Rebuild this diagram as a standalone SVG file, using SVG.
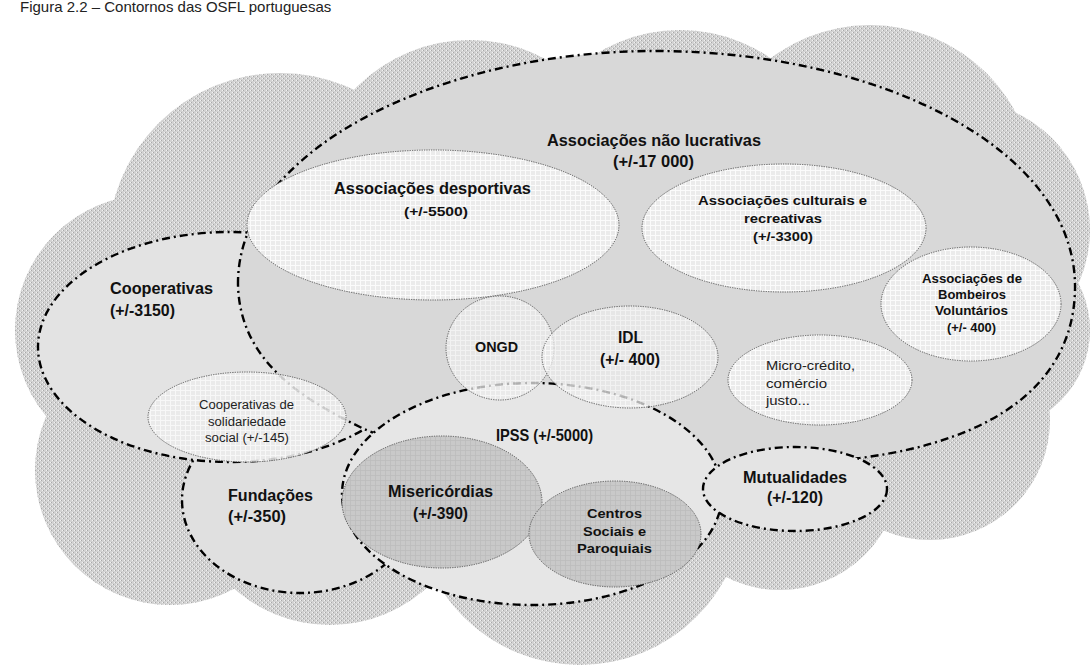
<svg xmlns="http://www.w3.org/2000/svg" width="1092" height="666" viewBox="0 0 1092 666">
<defs>
<pattern id="cl" width="4" height="4" patternUnits="userSpaceOnUse">
<rect width="4" height="4" fill="#d2d2d2"/>
<rect x="0" y="0" width="1" height="1" fill="#f2f2f2"/>
<rect x="2" y="2" width="1" height="1" fill="#f2f2f2"/>
<rect x="1" y="0" width="1" height="1" fill="#a8a8a8"/>
<rect x="3" y="2" width="1" height="1" fill="#a8a8a8"/>
</pattern>
<pattern id="lg" width="5" height="5" patternUnits="userSpaceOnUse">
<rect width="5" height="5" fill="#ebebeb"/>
<path d="M0 0.5H5M0.5 0V5" stroke="#fbfbfb" stroke-width="1"/>
</pattern>
<pattern id="dg" width="5" height="5" patternUnits="userSpaceOnUse">
<rect width="5" height="5" fill="#c9c9c9"/>
<path d="M0 0.5H5M0.5 0V5" stroke="#bcbcbc" stroke-width="0.8"/>
</pattern>
<style>
.bd{stroke:#000;stroke-width:2.4;stroke-dasharray:8 4 2 4}
.dt{stroke:#555;stroke-width:1;stroke-dasharray:1.2 1.2}
.t{font-family:"Liberation Sans",Arial,sans-serif;font-weight:bold;fill:#111;text-anchor:middle}
.l{text-anchor:start}
.n{font-weight:normal;fill:#222}
</style>
</defs>
<rect width="1092" height="666" fill="#fff"/>
<text x="20" y="12" style="font-family:'Liberation Sans',Arial,sans-serif;font-size:15px;fill:#222">Figura 2.2 – Contornos das OSFL portuguesas</text>

<g id="cloud" fill="url(#cl)">
<circle cx="280" cy="245" r="172"/>
<circle cx="470" cy="200" r="160"/>
<circle cx="680" cy="190" r="160"/>
<circle cx="870" cy="190" r="165"/>
<circle cx="960" cy="230" r="130"/>
<circle cx="990" cy="330" r="100"/>
<circle cx="930" cy="420" r="120"/>
<circle cx="780" cy="470" r="120"/>
<circle cx="580" cy="500" r="165"/>
<circle cx="330" cy="480" r="145"/>
<circle cx="170" cy="470" r="135"/>
<circle cx="150" cy="330" r="135"/>
<circle cx="600" cy="320" r="260"/>
</g>

<g id="fundacoes">
<ellipse cx="300" cy="500" rx="118" ry="93" fill="#e0e0e0" class="bd"/>
</g>
<g id="cooperativas">
<ellipse cx="230" cy="347" rx="192" ry="115" fill="#e3e3e3" class="bd"/>
</g>
<g id="associacoes">
<path d="M238,285 C236,150 440,51 655,51 C880,51 1078,150 1075,290 C1073,380 1000,440 860,458 L700,470 C560,470 420,455 362,428 C300,398 240,360 238,285 Z" fill="#d8d8d8" class="bd"/>
</g>
<g id="desportivas">
<ellipse cx="433" cy="225" rx="186" ry="75" fill="url(#lg)" class="dt"/>
</g>
<g id="culturais">
<ellipse cx="784" cy="228" rx="142" ry="64" fill="url(#lg)" class="dt"/>
</g>
<g id="bombeiros">
<ellipse cx="971" cy="304" rx="90" ry="57" fill="url(#lg)" class="dt"/>
</g>
<g id="micro">
<ellipse cx="820" cy="380" rx="92" ry="45" fill="url(#lg)" class="dt"/>
</g>
<g id="ipss">
<ellipse cx="532" cy="494" rx="190" ry="111" fill="#e6e6e6" class="bd"/>
</g>
<g id="mutualidades">
<ellipse cx="795" cy="489" rx="92" ry="42" fill="#e4e4e4" class="bd"/>
</g>
<g id="ongd">
<ellipse cx="500" cy="348" rx="54" ry="52" fill="url(#lg)" fill-opacity="0.75" class="dt"/>
</g>
<g id="idl">
<ellipse cx="630" cy="357" rx="88" ry="51" fill="url(#lg)" fill-opacity="0.75" class="dt"/>
</g>
<g id="coopsol">
<ellipse cx="247" cy="417" rx="99" ry="45" fill="url(#lg)" fill-opacity="0.85" class="dt"/>
</g>
<g id="misericordias">
<ellipse cx="442" cy="502" rx="100" ry="66" fill="url(#dg)" class="dt"/>
</g>
<g id="centros">
<ellipse cx="615" cy="534" rx="86" ry="53" fill="url(#dg)" class="dt"/>
</g>

<g id="labels">
<text class="t" x="654" y="146" font-size="17" textLength="214" lengthAdjust="spacingAndGlyphs">Associações não lucrativas</text>
<text class="t" x="653.5" y="167" font-size="17" textLength="81" lengthAdjust="spacingAndGlyphs">(+/-17 000)</text>
<text class="t" x="432.5" y="194" font-size="16.5" textLength="197" lengthAdjust="spacingAndGlyphs">Associações desportivas</text>
<text class="t" x="436" y="216" font-size="13.5" textLength="64" lengthAdjust="spacingAndGlyphs">(+/-5500)</text>
<text class="t" x="782.5" y="205" font-size="13.5" textLength="169" lengthAdjust="spacingAndGlyphs">Associações culturais e</text>
<text class="t" x="783" y="223" font-size="13.5" textLength="78" lengthAdjust="spacingAndGlyphs">recreativas</text>
<text class="t" x="783" y="241" font-size="13.5" textLength="60" lengthAdjust="spacingAndGlyphs">(+/-3300)</text>
<text class="t" x="972" y="283" font-size="12" textLength="100" lengthAdjust="spacingAndGlyphs">Associações de</text>
<text class="t" x="972" y="299" font-size="12" textLength="68" lengthAdjust="spacingAndGlyphs">Bombeiros</text>
<text class="t" x="971.5" y="315" font-size="12" textLength="73" lengthAdjust="spacingAndGlyphs">Voluntários</text>
<text class="t" x="971.5" y="332" font-size="12" textLength="49" lengthAdjust="spacingAndGlyphs">(+/- 400)</text>
<text class="t l" x="110" y="294" font-size="16.5" textLength="103" lengthAdjust="spacingAndGlyphs">Cooperativas</text>
<text class="t l" x="110" y="316" font-size="16.5" textLength="65" lengthAdjust="spacingAndGlyphs">(+/-3150)</text>
<text class="t" x="496.5" y="352" font-size="14" textLength="43" lengthAdjust="spacingAndGlyphs">ONGD</text>
<text class="t" x="630.5" y="343" font-size="16.5" textLength="25" lengthAdjust="spacingAndGlyphs">IDL</text>
<text class="t" x="630" y="365" font-size="16.5" textLength="60" lengthAdjust="spacingAndGlyphs">(+/- 400)</text>
<text class="t l n" x="766" y="370" font-size="13.5" textLength="89" lengthAdjust="spacingAndGlyphs">Micro-crédito,</text>
<text class="t l n" x="766" y="388" font-size="13.5" textLength="61" lengthAdjust="spacingAndGlyphs">comércio</text>
<text class="t l n" x="766" y="405" font-size="13.5" textLength="44" lengthAdjust="spacingAndGlyphs">justo...</text>
<text class="t n" x="246.5" y="409" font-size="12.5" textLength="95" lengthAdjust="spacingAndGlyphs">Cooperativas de</text>
<text class="t n" x="247" y="426" font-size="12.5" textLength="78" lengthAdjust="spacingAndGlyphs">solidariedade</text>
<text class="t n" x="247" y="442" font-size="12.5" textLength="84" lengthAdjust="spacingAndGlyphs">social (+/-145)</text>
<text class="t" x="544.5" y="441" font-size="17" textLength="97" lengthAdjust="spacingAndGlyphs">IPSS (+/-5000)</text>
<text class="t" x="440.5" y="497" font-size="16" textLength="105" lengthAdjust="spacingAndGlyphs">Misericórdias</text>
<text class="t" x="440.5" y="519" font-size="16" textLength="55" lengthAdjust="spacingAndGlyphs">(+/-390)</text>
<text class="t" x="614.5" y="518" font-size="13.5" textLength="55" lengthAdjust="spacingAndGlyphs">Centros</text>
<text class="t" x="614.5" y="536" font-size="13.5" textLength="63" lengthAdjust="spacingAndGlyphs">Sociais e</text>
<text class="t" x="614.5" y="553" font-size="13.5" textLength="75" lengthAdjust="spacingAndGlyphs">Paroquiais</text>
<text class="t l" x="228" y="501" font-size="16" textLength="85" lengthAdjust="spacingAndGlyphs">Fundações</text>
<text class="t l" x="228" y="522" font-size="16" textLength="58" lengthAdjust="spacingAndGlyphs">(+/-350)</text>
<text class="t" x="795" y="483" font-size="16" textLength="104" lengthAdjust="spacingAndGlyphs">Mutualidades</text>
<text class="t" x="795" y="503" font-size="16" textLength="56" lengthAdjust="spacingAndGlyphs">(+/-120)</text>
</g>
</svg>
